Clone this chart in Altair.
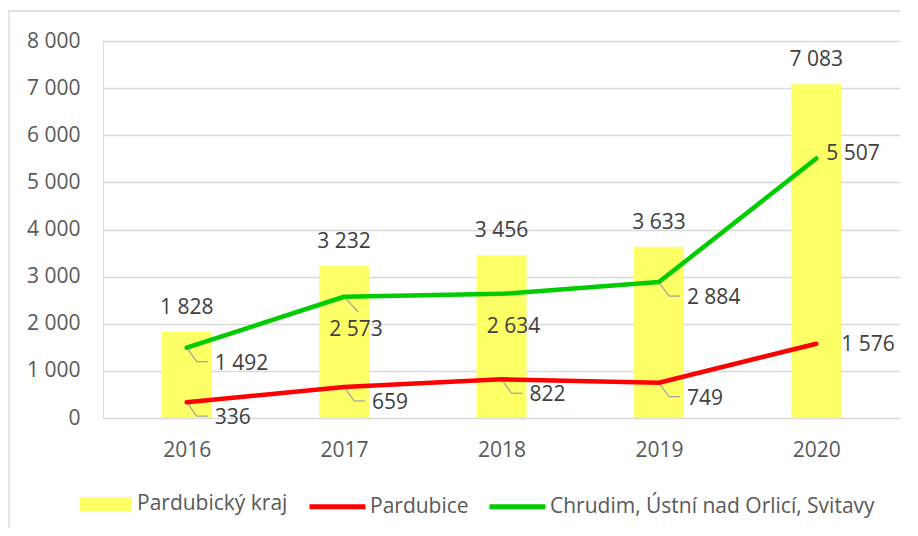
import altair as alt
import pandas as pd

years = [2016, 2017, 2018, 2019, 2020]
kraj = [1828, 3232, 3456, 3633, 7083]
pardubice = [336, 659, 822, 749, 1576]
chrudim = [1492, 2573, 2634, 2884, 5507]
y_ticks = [0, 1000, 2000, 3000, 4000, 5000, 6000, 7000, 8000]

S_KRAJ = "Pardubický kraj"
S_PCE = "Pardubice"
S_CHR = "Chrudim, Ústní nad Orlicí, Svitavy"

FONT = "Open Sans"
FS = 21
FMT = "replace(format(datum.value, ','), ',', ' ')"

bars_df = pd.DataFrame({"year": years, "value": kraj, "series": S_KRAJ})
lines_df = pd.concat([
    pd.DataFrame({"year": years, "value": pardubice, "series": S_PCE}),
    pd.DataFrame({"year": years, "value": chrudim, "series": S_CHR}),
], ignore_index=True)

x_enc = alt.X("year:Q",
              scale=alt.Scale(domain=[2015.5, 2020.5], nice=False, zero=False),
              axis=alt.Axis(values=years, format="d", grid=False, ticks=False, domain=False,
                            labelPadding=21, labelFontSize=FS, labelColor="#595959",
                            labelFont=FONT, title=None))
y_enc = alt.Y("value:Q",
              scale=alt.Scale(domain=[0, 8000], nice=False),
              axis=alt.Axis(values=y_ticks, labelExpr=FMT, ticks=False, domain=False,
                            grid=True, gridColor="#D9D9D9", gridWidth=1.3,
                            labelPadding=23, labelFontSize=FS, labelColor="#595959",
                            labelFont=FONT, title=None))

frame = alt.Chart(alt.Data(values=[{"a": 1}])).mark_rect(
    fillOpacity=0, stroke="#D9D9D9", strokeWidth=1.3
).encode(x=alt.value(-94), x2=alt.value(830), y=alt.value(-30), y2=alt.value(510))

bars = alt.Chart(bars_df).mark_bar(size=50).encode(
    x=x_enc, y=y_enc,
    color=alt.Color("series:N",
                    scale=alt.Scale(domain=[S_KRAJ], range=["#FFFF66"]),
                    legend=alt.Legend(title=None, orient="none", legendX=-23, legendY=437,
                                      symbolType="M-1,-0.27H1V0.27H-1Z", symbolSize=2704,
                                      symbolStrokeWidth=0, labelFontSize=FS, labelFont=FONT,
                                      labelColor="#595959", labelOffset=5, labelLimit=500)),
)

bar_labels = alt.Chart(bars_df).transform_calculate(
    lbl="replace(format(datum.value, ','), ',', ' ')"
).mark_text(dy=-18, baseline="alphabetic", align="center", font=FONT, fontSize=FS,
            color="#404040").encode(x=x_enc, y=y_enc, text="lbl:N")

base_l = alt.Chart(lines_df)

grpA = ("(datum.year < 2020) && !(datum.series == '%s' && (datum.year == 2017 || datum.year == 2018))" % S_CHR)
grpB = ("datum.series == '%s' && (datum.year == 2017 || datum.year == 2018)" % S_CHR)

leader_kw = dict(color="#A6A6A6", strokeWidth=1.3)
lead_diag = base_l.transform_filter(grpA).mark_rule(x2Offset=10, y2Offset=14, **leader_kw).encode(
    x=x_enc, y=y_enc, x2=alt.X2("year:Q"), y2=alt.Y2("value:Q"))
lead_hor = base_l.transform_filter(grpA).mark_rule(xOffset=10, yOffset=14, x2Offset=21, y2Offset=14,
                                                   **leader_kw).encode(
    x=x_enc, y=y_enc, x2=alt.X2("year:Q"), y2=alt.Y2("value:Q"))
lead_b = base_l.transform_filter("datum.series == '%s' && datum.year == 2017" % S_CHR).mark_rule(
    x2Offset=14, y2Offset=15, **leader_kw).encode(
    x=x_enc, y=y_enc, x2=alt.X2("year:Q"), y2=alt.Y2("value:Q"))

lines = base_l.mark_line(strokeWidth=4.5, strokeCap="round", strokeJoin="round").encode(
    x=x_enc, y=y_enc,
    stroke=alt.Stroke("series:N",
                      scale=alt.Scale(domain=[S_PCE, S_CHR], range=["#FF0000", "#00CC00"]),
                      legend=alt.Legend(title=None, orient="none", legendX=204, legendY=435,
                                        direction="horizontal", symbolType="stroke",
                                        symbolSize=3136, symbolStrokeWidth=5,
                                        columnPadding=10, labelFontSize=FS, labelFont=FONT,
                                        labelColor="#595959", labelOffset=2, labelLimit=500)),
    detail="series:N",
)

txt_kw = dict(font=FONT, fontSize=FS, color="#404040", baseline="middle")
lbl_calc = "replace(format(datum.value, ','), ',', ' ')"

labels_a = base_l.transform_filter(grpA).transform_calculate(lbl=lbl_calc).mark_text(
    dx=28, dy=16, align="left", **txt_kw).encode(x=x_enc, y=y_enc, text="lbl:N")
labels_b = base_l.transform_filter(grpB).transform_calculate(lbl=lbl_calc).mark_text(
    dx=12, dy=33, align="center", **txt_kw).encode(x=x_enc, y=y_enc, text="lbl:N")
labels_c1 = base_l.transform_filter("datum.year == 2020 && datum.series == '%s'" % S_CHR).transform_calculate(
    lbl=lbl_calc).mark_text(dx=10, dy=-4, align="left", **txt_kw).encode(x=x_enc, y=y_enc, text="lbl:N")
labels_c2 = base_l.transform_filter("datum.year == 2020 && datum.series == '%s'" % S_PCE).transform_calculate(
    lbl=lbl_calc).mark_text(dx=25, dy=1, align="left", **txt_kw).encode(x=x_enc, y=y_enc, text="lbl:N")

chart = alt.layer(
    frame, bars, bar_labels, lead_diag, lead_hor, lead_b, lines,
    labels_a, labels_b, labels_c1, labels_c2
).resolve_scale(color="independent", stroke="independent").properties(
    width=797, height=377,
    autosize=alt.AutoSizeParams(type="none"),
    padding={"left": 95, "top": 33, "right": 0, "bottom": 110},
).configure_view(strokeWidth=0).configure(background="white")

chart.save("out.html", embed_options={"renderer": "svg", "actions": False})
